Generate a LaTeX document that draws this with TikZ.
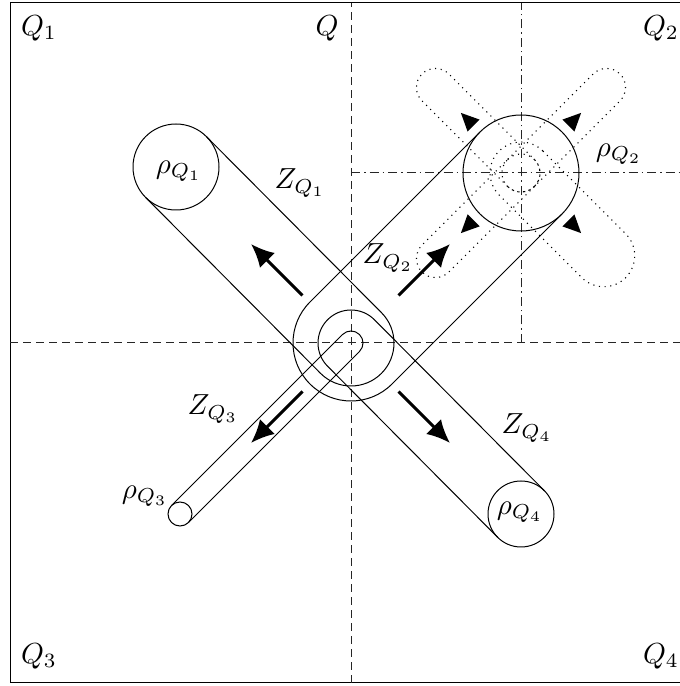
\documentclass[tikz,border=0pt]{standalone}
\usetikzlibrary{calc,arrows.meta}
\tikzset{
  x=1pt,y=1pt,
  thin line/.style={line width=1pt},
  axisdash/.style={line width=1pt,dash pattern=on 8pt off 5pt,draw=black!85},
  axisdot/.style={line width=1pt,dash pattern=on 9pt off 4pt on 1.5pt off 4pt,draw=black!85},
  lobe/.style={line width=1.1pt,dash pattern=on 1.1pt off 4.6pt},
  bigarrow/.style={line width=3pt,-{Latex[length=23pt,width=21pt]}},
  lab/.style={scale=2.9,inner sep=0pt},
  headtip/.style={fill=black,draw=none}
}
\begin{document}
\begin{tikzpicture}
\useasboundingbox (0,0) rectangle (680,686);
\coordinate (c) at (351,343);
\coordinate (q1) at (176,519);
\coordinate (q2) at (521,513);
\coordinate (q3) at (180,172);
\coordinate (q4) at (521,172);
% frame and axes
\draw[thin line] (10,3) rectangle (692,683);
\draw[axisdash] (10,343) -- (692,343);
\draw[axisdash] (351,3) -- (351,683);
\draw[axisdot] (c |- q2) -- (692,513);
\draw[axisdot] (q2 |- c) -- (521,683);
% dotted lobes
\foreach \d/\r/\l in {135/19/121,45/19/121,225/19/121,-45/31/117}{
  \begin{scope}[shift={(q2)},rotate=\d]
    \draw[lobe] (0,\r) -- (\l,\r) arc[start angle=90,end angle=-90,radius=\r]
      -- (0,-\r) arc[start angle=-90,end angle=-270,radius=\r] -- cycle;
  \end{scope}
}
% circles
\draw[thin line] (q1) circle[radius=43];
\draw[thin line] (q2) circle[radius=58];
\draw[thin line] (q3) circle[radius=12];
\draw[thin line] (q4) circle[radius=33];
% tubes
\draw[thin line] ($(q1)+(45:43)$) -- ($(c)+(45:43)$) arc[start angle=45,end angle=-135,radius=43] -- ($(q1)+(225:43)$);
\draw[thin line] ($(q2)+(135:58)$) -- ($(c)+(135:58)$) arc[start angle=135,end angle=315,radius=58] -- ($(q2)+(-45:58)$);
\draw[thin line] ($(q3)+(135:12)$) -- ($(c)+(135:12)$) arc[start angle=135,end angle=-45,radius=12] -- ($(q3)+(-45:12)$);
\draw[thin line] ($(q4)+(45:33)$) -- ($(c)+(45:33)$) arc[start angle=45,end angle=225,radius=33] -- ($(q4)+(225:33)$);
% thick arrows
\coordinate (a1s) at (302.5,390.5); \coordinate (a1e) at (251,442);
\coordinate (a2s) at (398.5,390.5); \coordinate (a2e) at (450,442);
\coordinate (a3s) at (302.5,294.5); \coordinate (a3e) at (251,243);
\coordinate (a4s) at (398.5,294.5); \coordinate (a4e) at (450,243);
\draw[bigarrow] (a1s) -- (a1e);
\draw[bigarrow] (a2s) -- (a2e);
\draw[bigarrow] (a3s) -- (a3e);
\draw[bigarrow] (a4s) -- (a4e);
% small arrowheads round Q2
\foreach \d in {45,135,225,315}{
  \begin{scope}[shift={(q2)},rotate=\d]
    \fill[headtip] (85,0) -- (67,8.5) -- (67,-8.5) -- cycle;
  \end{scope}
}
% labels
\node[lab] (tq1) at (39,658) {$Q_1$};
\node[lab] (tq)  at (327,658) {$Q$};
\node[lab] (tq2) at (661,658) {$Q_2$};
\node[lab] (tq3) at (39,30) {$Q_3$};
\node[lab] (tq4) at (661,30) {$Q_4$};
\node[lab] (r1) at (179,515) {$\rho_{Q_1}$};
\node[lab] (r2) at (619,532) {$\rho_{Q_2}$};
\node[lab] (r3) at (145,190) {$\rho_{Q_3}$};
\node[lab] (r4) at (520,174) {$\rho_{Q_4}$};
\node[lab] (z1) at (300,503) {$Z_{Q_1}$};
\node[lab] (z2) at (388,428) {$Z_{Q_2}$};
\node[lab] (z3) at (213,277) {$Z_{Q_3}$};
\node[lab] (z4) at (527,258) {$Z_{Q_4}$};
\end{tikzpicture}
\end{document}
